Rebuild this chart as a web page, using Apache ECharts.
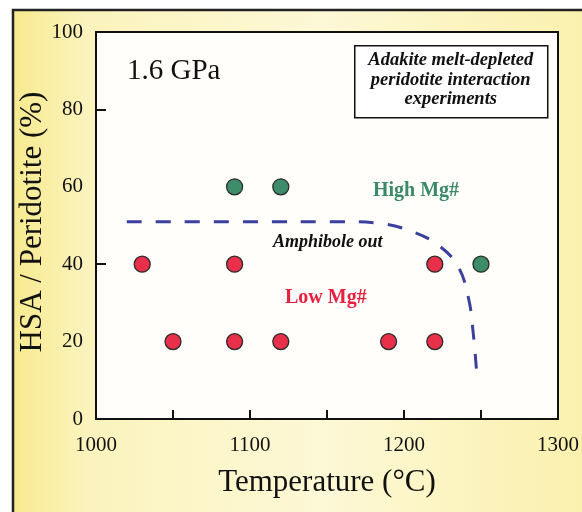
<!DOCTYPE html>
<html>
<head>
<meta charset="utf-8">
<script src="https://cdn.jsdelivr.net/npm/echarts@6/dist/echarts.min.js"></script>
<style>
  html, body { margin: 0; padding: 0; background: #fff; }
  #chart { width: 582px; height: 512px; }
</style>
</head>
<body>
<div id="chart"></div>
<script>
// experiment temperatures (°C) and HSA / peridotite (%)
const highMgT = [1090, 1120, 1250];
const highMgP = [60, 60, 40];
const lowMgT = [1030, 1090, 1220, 1050, 1090, 1120, 1190, 1220];
const lowMgP = [40, 40, 40, 20, 20, 20, 20, 20];
// amphibole-out boundary (dashed)
const boundaryT = [1020, 1100, 1160, 1185, 1205, 1222, 1235, 1242, 1245, 1247];
const boundaryP = [51, 51, 51, 50.5, 48.5, 45, 39.5, 31, 22, 13];
const xTicks = [1000, 1100, 1200, 1300];

const serif = "'Liberation Serif', 'DejaVu Serif', serif";

function pairs(xs, ys) {
  return xs.map((x, i) => [x, ys[i]]);
}

let myChart = echarts.init(document.getElementById("chart"));

let option = {
  animation: false,
  backgroundColor: "#fff",
  graphic: [
    {
      type: "rect",
      z: -10,
      shape: { x: 13, y: 10, width: 620, height: 560 },
      style: {
        fill: new echarts.graphic.LinearGradient(0, 0, 1, 0, [
          { offset: 0, color: "#f7ea8e" },
          { offset: 0.12, color: "#fbf3bd" },
          { offset: 0.5, color: "#fdf8d6" },
          { offset: 1, color: "#faefa6" }
        ]),
        stroke: "#222",
        lineWidth: 2.5
      }
    },
    {
      // y axis title, placed by hand so it sits closer to the tick labels
      type: "text",
      x: 33,
      y: 222,
      rotation: Math.PI / 2,
      style: {
        text: "HSA / Peridotite (%)",
        font: "31px " + serif,
        fill: "#111",
        align: "center",
        verticalAlign: "middle"
      }
    },
    {
      type: "text",
      left: 127,
      top: 57,
      style: { text: "1.6 GPa", font: "29px " + serif, fill: "#111" }
    },
    {
      type: "group",
      left: 354,
      top: 45,
      children: [
        {
          type: "rect",
          shape: { x: 0, y: 0, width: 193, height: 72 },
          style: { fill: "#fff", stroke: "#111", lineWidth: 1.5 }
        },
        {
          type: "text",
          x: 96,
          y: 5,
          style: {
            text: "Adakite melt-depleted\nperidotite interaction\nexperiments",
            font: "italic bold 18.5px " + serif,
            lineHeight: 19.5,
            align: "center",
            fill: "#111"
          }
        }
      ]
    },
    {
      type: "text",
      left: 373,
      top: 181,
      style: { text: "High Mg#", font: "bold 20px " + serif, fill: "#3a8a68" }
    },
    {
      type: "text",
      left: 273,
      top: 233,
      style: { text: "Amphibole out", font: "italic bold 18px " + serif, fill: "#111" }
    },
    {
      type: "text",
      left: 285,
      top: 288,
      style: { text: "Low Mg#", font: "bold 20px " + serif, fill: "#e8203f" }
    }
  ],
  grid: {
    left: 96,
    right: 22,
    top: 32,
    bottom: 93,
    show: true,
    backgroundColor: "#fffefa",
    borderColor: "#111",
    borderWidth: 2
  },
  xAxis: {
    type: "value",
    min: 1000,
    max: 1300,
    interval: 50,
    name: "Temperature (°C)",
    nameLocation: "middle",
    nameGap: 48,
    nameTextStyle: { fontFamily: serif, fontSize: 31, color: "#111" },
    axisLine: { lineStyle: { color: "#111", width: 2 } },
    axisTick: { inside: true, length: 9, lineStyle: { color: "#111", width: 2 } },
    axisLabel: {
      margin: 16,
      fontFamily: serif,
      fontSize: 21,
      color: "#111",
      formatter: function (v) {
        return xTicks.indexOf(v) >= 0 ? String(v) : "";
      }
    },
    splitLine: { show: false }
  },
  yAxis: [
    {
      type: "value",
      min: 0,
      max: 100,
      interval: 20,
      axisLine: { lineStyle: { color: "#111", width: 2 } },
      axisTick: { show: false },
      axisLabel: { margin: 13, fontFamily: serif, fontSize: 21, color: "#111" },
      splitLine: { show: false }
    },
    {
      type: "value",
      min: 0,
      max: 100,
      interval: 40,
      position: "left",
      axisLine: { show: false },
      axisTick: { inside: true, length: 10, lineStyle: { color: "#111", width: 2 } },
      axisLabel: { show: false },
      splitLine: { show: false }
    }
  ],
  series: [
    {
      name: "Amphibole out",
      type: "line",
      data: pairs(boundaryT, boundaryP),
      smooth: 0.4,
      showSymbol: false,
      lineStyle: { color: "#3b3f9e", width: 3, type: [15, 14] },
      z: 3
    },
    {
      name: "Low Mg#",
      type: "scatter",
      data: pairs(lowMgT, lowMgP),
      symbolSize: 16,
      itemStyle: { color: "#e8304a", borderColor: "#2a2a2a", borderWidth: 1.3, opacity: 1 },
      z: 4
    },
    {
      name: "High Mg#",
      type: "scatter",
      data: pairs(highMgT, highMgP),
      symbolSize: 16,
      itemStyle: { color: "#3d8c6a", borderColor: "#2a2a2a", borderWidth: 1.3, opacity: 1 },
      z: 4
    }
  ]
};

myChart.setOption(option);
window.addEventListener("resize", () => {
  myChart.resize();
});
</script>
</body>
</html>
